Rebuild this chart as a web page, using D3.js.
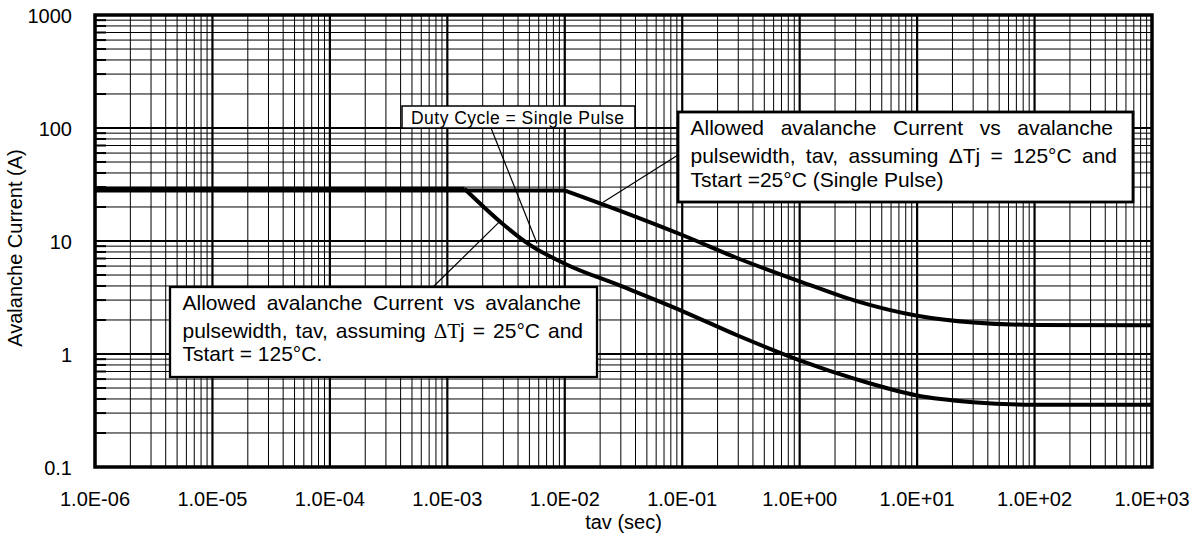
<!DOCTYPE html>
<meta charset="utf-8">
<title>Avalanche Current vs tav</title>
<style>
  body { margin: 0; background: #fff; }
  text { font-family: "Liberation Sans", Arial, Helvetica, sans-serif; fill: #000; }
</style>
<script src="https://d3js.org/d3.v7.min.js"></script>
<div id="chart"></div>
<script>
// curve data (tav in seconds, current in A)
const tavUpper = [1e-6, 1e-2, 3e-2, 1e-1, 3e-1, 1, 3, 10, 30, 100, 1000];
const iUpper   = [28, 28, 18.4, 11.3, 7.0, 4.4, 2.95, 2.18, 1.9, 1.81, 1.8];

const tavLower = [1e-6, 1.4e-3, 3e-3, 5e-3, 1e-2, 3e-2, 1e-1, 3e-1, 1, 3, 10, 30, 100, 1000];
const iLower   = [29, 29, 14, 9.3, 6.3, 4.0, 2.4, 1.45, 0.88, 0.6, 0.43, 0.375, 0.355, 0.355];

const xTicks = [1e-6, 1e-5, 1e-4, 1e-3, 1e-2, 1e-1, 1, 10, 100, 1000];
const xTickLabels = ["1.0E-06", "1.0E-05", "1.0E-04", "1.0E-03", "1.0E-02", "1.0E-01", "1.0E+00", "1.0E+01", "1.0E+02", "1.0E+03"];
const yTicks = [0.1, 1, 10, 100, 1000];
const yTickLabels = ["0.1", "1", "10", "100", "1000"];

// annotation texts
const dutyText = "Duty Cycle = Single Pulse";
const note25 = ["Allowed avalanche Current vs avalanche",
                "pulsewidth, tav, assuming \u0394Tj = 25\u00b0C and",
                "Tstart = 125\u00b0C."];
const note125 = ["Allowed avalanche Current vs avalanche",
                 "pulsewidth, tav, assuming \u0394Tj = 125\u00b0C and",
                 "Tstart =25\u00b0C (Single Pulse)"];
// points (tav, A) where the leader lines touch the curves
const dutyTarget = [5.8e-3, 9.5];
const note25Target = [2.8e-3, 14.9];
const note125Target = [0.0212, 22];

const W = 1194, H = 547;
const margin = {top: 15, right: 42, bottom: 80, left: 95};
const width = W - margin.left - margin.right,
      height = H - margin.top - margin.bottom;

const svg = d3.select("#chart").append("svg")
    .attr("width", W).attr("height", H);
const g = svg.append("g").attr("transform", `translate(${margin.left},${margin.top})`);

const x = d3.scaleLog().domain([1e-6, 1e3]).range([0, width]);
const y = d3.scaleLog().domain([0.1, 1000]).range([height, 0]);

// grid: every 1..9 of each decade, decade lines heavier
const xGrid = [], yGrid = [];
for (let d = -6; d < 3; d++) for (let m = 1; m < 10; m++) xGrid.push({v: m * Math.pow(10, d), major: m === 1});
for (let d = -1; d < 3; d++) for (let m = 1; m < 10; m++) yGrid.push({v: m * Math.pow(10, d), major: m === 1});

g.append("g").selectAll("line").data(xGrid).join("line")
  .attr("x1", d => x(d.v)).attr("x2", d => x(d.v))
  .attr("y1", 0).attr("y2", height)
  .attr("stroke", "#000").attr("stroke-width", d => d.major ? 2.2 : 1);

g.append("g").selectAll("line").data(yGrid).join("line")
  .attr("y1", d => y(d.v)).attr("y2", d => y(d.v))
  .attr("x1", 0).attr("x2", width)
  .attr("stroke", "#000").attr("stroke-width", d => d.major ? 2.2 : 1);

// short inner ticks on the left edge
g.append("g").selectAll("line").data(yGrid.filter(d => !d.major)).join("line")
  .attr("y1", d => y(d.v)).attr("y2", d => y(d.v))
  .attr("x1", 0).attr("x2", 11)
  .attr("stroke", "#000").attr("stroke-width", 2);

// frame
g.append("rect").attr("width", width).attr("height", height)
  .attr("fill", "none").attr("stroke", "#000").attr("stroke-width", 3.5);

// tick labels
g.append("g").selectAll("text").data(xTicks).join("text")
  .attr("x", d => x(d)).attr("y", height + 39)
  .attr("text-anchor", "middle").attr("font-size", 20)
  .text((d, i) => xTickLabels[i]);

g.append("g").selectAll("text").data(yTicks).join("text")
  .attr("x", -23).attr("y", d => y(d) + 7.5)
  .attr("text-anchor", "end").attr("font-size", 20)
  .text((d, i) => yTickLabels[i]);

// axis titles
svg.append("text").attr("x", margin.left + width / 2).attr("y", 529)
  .attr("text-anchor", "middle").attr("font-size", 20).text("tav (sec)");
svg.append("text").attr("transform", "translate(22,248) rotate(-90)")
  .attr("text-anchor", "middle").attr("font-size", 20).text("Avalanche Current (A)");

// curves: straight flat part up to the knee, smooth after it
function drawCurve(tav, cur) {
  const pts = tav.map((t, i) => [x(t), y(cur[i])]);
  g.append("path").attr("d", d3.line()(pts.slice(0, 2)))
    .attr("fill", "none").attr("stroke", "#000").attr("stroke-width", 4);
  g.append("path").attr("d", d3.line().curve(d3.curveMonotoneX)(pts.slice(1)))
    .attr("fill", "none").attr("stroke", "#000").attr("stroke-width", 4)
    .attr("stroke-linejoin", "round");
}
drawCurve(tavUpper, iUpper);
drawCurve(tavLower, iLower);

// leader lines (box corner in page px -> point on curve)
const ann = svg.append("g");
function leader(px, py, target) {
  ann.append("line")
    .attr("x1", px).attr("y1", py)
    .attr("x2", margin.left + x(target[0])).attr("y2", margin.top + y(target[1]))
    .attr("stroke", "#000").attr("stroke-width", 1.2);
}
leader(491, 128, dutyTarget);
leader(433, 287, note25Target);
leader(678, 155, note125Target);

// duty cycle box
ann.append("rect").attr("x", 402).attr("y", 106).attr("width", 233).attr("height", 22)
  .attr("fill", "#fff").attr("stroke", "#000").attr("stroke-width", 1.5);
ann.append("text").attr("x", 411).attr("y", 123.5).attr("font-size", 17.5)
  .attr("textLength", 213).attr("lengthAdjust", "spacing").text(dutyText);

// spread words so a line fills x0..x1
function justify(sel, words, x0, x1, yy, serifDelta) {
  const nodes = words.map(w => {
    const t = sel.append("text").attr("y", yy).attr("font-size", 21);
    if (serifDelta && w.startsWith("\u0394")) {
      t.append("tspan").attr("font-family", "Liberation Serif, serif").text(w.slice(0, 2));
      t.append("tspan").text(w.slice(2));
    } else t.text(w);
    return t;
  });
  const widths = nodes.map(n => n.node().getComputedTextLength());
  const gap = (x1 - x0 - d3.sum(widths)) / Math.max(1, words.length - 1);
  let cx = x0;
  nodes.forEach((n, i) => { n.attr("x", cx); cx += widths[i] + gap; });
}

function noteBox(lines, bx, by, bw, bh, tx, right1, right2, base, serifDelta, sw) {
  ann.append("rect").attr("x", bx).attr("y", by).attr("width", bw).attr("height", bh)
    .attr("fill", "#fff").attr("stroke", "#000").attr("stroke-width", sw);
  justify(ann, lines[0].split(" "), tx, right1, base[0], serifDelta);
  justify(ann, lines[1].split(" "), tx, right2, base[1], serifDelta);
  ann.append("text").attr("x", tx).attr("y", base[2]).attr("font-size", 21).text(lines[2]);
}

noteBox(note25, 170, 287, 427, 90, 182.5, 581, 583, [309.5, 337.5, 360.5], true, 2.3);
noteBox(note125, 678, 112, 455, 90, 690.5, 1113, 1117, [134.5, 162.5, 186.5], false, 2.8);
</script>
